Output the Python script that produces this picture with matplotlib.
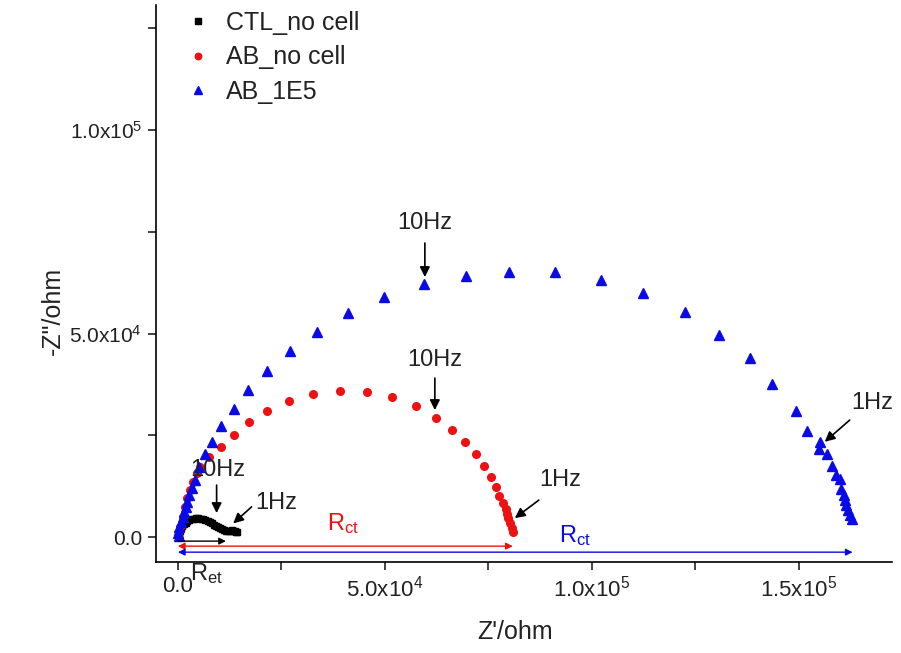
import matplotlib
matplotlib.use("Agg")
import matplotlib.pyplot as plt
from matplotlib.ticker import FixedLocator, FixedFormatter

plt.rcParams["font.family"] = ["Liberation Sans", "DejaVu Sans"]
plt.rcParams["mathtext.fontset"] = "custom"
plt.rcParams["mathtext.rm"] = "Liberation Sans"
plt.rcParams["mathtext.it"] = "Liberation Sans:italic"
plt.rcParams["mathtext.bf"] = "Liberation Sans:bold"

# Nyquist data: Z' (ohm) and -Z'' (ohm)
ctl_x = [200, 350, 550, 800, 1100, 1450, 1850, 2300, 2800, 3300, 3850, 4400,
         4950, 5500, 6050, 6600, 7150, 7700, 8200, 8700, 9200, 9700, 10200,
         10700, 11200, 11700, 12150, 12600, 13000, 13400, 13750, 14050, 14300]
ctl_y = [300, 900, 1550, 2150, 2700, 3150, 3550, 3900, 4150, 4350, 4500, 4580,
         4600, 4550, 4400, 4200, 3950, 3650, 3350, 3050, 2750, 2450, 2200,
         1950, 1750, 1600, 1550, 1600, 1650, 1600, 1450, 1300, 1150]

ab_x = [70, 480, 1140, 1690, 2250, 2900, 3690, 4520, 5310, 7560, 10310, 13520,
        17070, 21420, 26880, 32680, 39120, 45570, 51750, 57480, 62310, 66170,
        69430, 71970, 73970, 75520, 76800, 77590, 78560, 79210, 79530, 79860,
        80180, 80590, 80830]
ab_y = [490, 2530, 4990, 7440, 9510, 11550, 13590, 15650, 17290, 19730, 22190,
        25060, 28330, 31030, 33490, 35210, 35950, 35550, 34320, 32190, 29310,
        26290, 23340, 20390, 17440, 14820, 12360, 10070, 8280, 6810, 5650, 4590,
        3370, 2140, 1300]

ab1e5_x = [200, 100, 310, 650, 1140, 1450, 1930, 2250, 2730, 3310, 4110, 5140,
           6520, 8140, 10460, 13520, 16980, 21570, 27050, 33500, 41130, 49820,
           59480, 69550, 79940, 91050, 102150, 112370, 122440, 130730, 138310,
           143620, 149250, 152070, 155210, 154870, 156800, 158010, 159070,
           159870, 160280, 160840, 161250, 161490, 161880, 162290, 162940]
ab1e5_y = [200, 900, 2530, 3760, 4990, 6220, 7440, 8670, 10320, 11970, 14000,
           17270, 20320, 23420, 27350, 31380, 36040, 40790, 45700, 50440, 55110,
           59040, 62240, 64130, 65180, 65040, 63140, 59880, 55360, 49630, 43910,
           37590, 31080, 26040, 23270, 21550, 20320, 17520, 15230, 14250, 11720,
           10320, 9090, 7860, 6630, 5410, 4420]

series_labels = ["CTL_no cell", "AB_no cell", "AB_1E5"]

# Resistances marked by the horizontal arrows
r_et = 11600
r_ct_ab = 80900
r_ct_ab1e5 = 163000

x_major = [0, 50000, 100000, 150000]
x_major_labels = ["0.0", r"5.0x10$^{4}$", r"1.0x10$^{5}$", r"1.5x10$^{5}$"]
x_minor = [25000, 75000, 125000]
y_major = [0, 50000, 100000]
y_major_labels = ["0.0", r"5.0x10$^{4}$", r"1.0x10$^{5}$"]
y_minor = [25000, 75000, 125000]

ink = "#222222"
red = "#ee1111"
blue = "#0a0ae6"

fig = plt.figure(figsize=(9.01, 6.53), dpi=100)
ax = fig.add_axes([0.1731, 0.1394, 0.8169, 0.8529])

ax.plot(ctl_x, ctl_y, "s", color="black", ms=5, ls="none", label=series_labels[0])
ax.plot(ab_x, ab_y, "o", color=red, ms=5.5, ls="none", label=series_labels[1])
ax.plot(ab1e5_x, ab1e5_y, "^", color=blue, ms=6.5, ls="none", label=series_labels[2])

ax.set_xlim(-5300, 172500)
ax.set_ylim(-6100, 130700)

ax.spines["top"].set_visible(False)
ax.spines["right"].set_visible(False)
for s in ("left", "bottom"):
    ax.spines[s].set_linewidth(1.2)

ax.xaxis.set_major_locator(FixedLocator(x_major))
ax.xaxis.set_major_formatter(FixedFormatter(x_major_labels))
ax.xaxis.set_minor_locator(FixedLocator(x_minor))
ax.yaxis.set_major_locator(FixedLocator(y_major))
ax.yaxis.set_major_formatter(FixedFormatter(y_major_labels))
ax.yaxis.set_minor_locator(FixedLocator(y_minor))
ax.tick_params(which="both", direction="out", length=6, width=1.2,
               colors=ink, pad=4)
ax.tick_params(axis="x", labelsize=16)
ax.tick_params(axis="y", labelsize=15)

ax.set_xlabel("Z'/ohm", fontsize=18, color=ink)
ax.set_ylabel('-Z"/ohm', fontsize=18, color=ink)
ax.xaxis.set_label_coords(0.488, -0.105)
ax.yaxis.set_label_coords(-0.124, 0.45)

leg = ax.legend(loc="upper left", bbox_to_anchor=(0.013, 1.03), frameon=False,
                fontsize=18, handlelength=0.8, handletextpad=0.7,
                labelspacing=0.42, markerscale=0.85)
for t in leg.get_texts():
    t.set_color(ink)

arrow_kw = dict(arrowstyle="-|>", color="black", lw=1.2, mutation_scale=15,
                shrinkA=0, shrinkB=0)
text_kw = dict(fontsize=17, color=ink, ha="center", va="center")

# Frequency markers
ax.text(59660, 77150, "10Hz", **text_kw)
ax.annotate("", xy=(59660, 63880), xytext=(59660, 72240), arrowprops=arrow_kw)
ax.text(62070, 43490, "10Hz", **text_kw)
ax.annotate("", xy=(62070, 31200), xytext=(62070, 39070), arrowprops=arrow_kw)
ax.text(92250, 14000, "1Hz", **text_kw)
ax.annotate("", xy=(81390, 4670), xytext=(87180, 9090), arrowprops=arrow_kw)
ax.text(167600, 32920, "1Hz", **text_kw)
ax.annotate("", xy=(156250, 23420), xytext=(162290, 28750), arrowprops=arrow_kw)
ax.text(9660, 16500, "10Hz", **text_kw)
ax.annotate("", xy=(9350, 5900), xytext=(9350, 12780), arrowprops=arrow_kw)
ax.text(23840, 8300, "1Hz", **text_kw)
ax.annotate("", xy=(13360, 3370), xytext=(17800, 7440), arrowprops=arrow_kw)

# Resistance arrows
span_kw = dict(shrinkA=0, shrinkB=0, mutation_scale=10, lw=1.0)
ax.annotate("", xy=(r_et, -980), xytext=(0, -980),
            arrowprops=dict(arrowstyle="-|>", color="black", **span_kw))
ax.annotate("", xy=(r_ct_ab, -2210), xytext=(0, -2210),
            arrowprops=dict(arrowstyle="<|-|>", color=red, **span_kw))
ax.annotate("", xy=(r_ct_ab1e5, -3690), xytext=(0, -3690),
            arrowprops=dict(arrowstyle="<|-|>", color=blue, **span_kw))

ax.text(39850, 3440, r"R$_{\mathrm{ct}}$", fontsize=17, color=red,
        ha="center", va="center")
ax.text(95880, 490, r"R$_{\mathrm{ct}}$", fontsize=17, color=blue,
        ha="center", va="center")
ax.text(7000, -8900, r"R$_{\mathrm{et}}$", fontsize=17, color=ink,
        ha="center", va="center")

fig.savefig("out.png", dpi=100)
